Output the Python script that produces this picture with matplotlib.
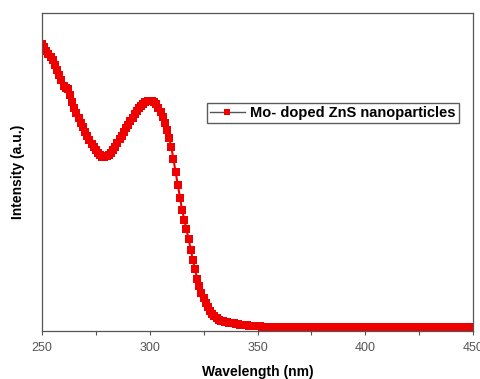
import matplotlib
matplotlib.use("Agg")
import matplotlib.pyplot as plt
from matplotlib.ticker import MultipleLocator

wavelength = list(range(250, 451))

intensity_250_340 = [
    0.903, 0.893, 0.882, 0.872, 0.862, 0.852, 0.837, 0.821, 0.805, 0.788,
    0.772, 0.765, 0.760, 0.741, 0.721, 0.701, 0.685, 0.670, 0.655, 0.640,
    0.626, 0.613, 0.601, 0.589, 0.578, 0.569, 0.560, 0.552, 0.548, 0.547,
    0.550, 0.555, 0.561, 0.569, 0.580, 0.591, 0.603, 0.614, 0.626, 0.637,
    0.648, 0.659, 0.670, 0.681, 0.691, 0.701, 0.709, 0.715, 0.720, 0.723,
    0.724, 0.723, 0.720, 0.713, 0.702, 0.688, 0.672, 0.654, 0.633, 0.607,
    0.578, 0.540, 0.500, 0.458, 0.418, 0.381, 0.350, 0.320, 0.290, 0.256,
    0.223, 0.194, 0.165, 0.140, 0.120, 0.103, 0.088, 0.074, 0.062, 0.053,
    0.046, 0.041, 0.036, 0.033, 0.031, 0.029, 0.027, 0.026, 0.025, 0.024,
    0.022,
]
intensity_341_360 = [
    0.021, 0.020, 0.019, 0.019, 0.018, 0.017, 0.017, 0.016, 0.016, 0.015,
    0.015, 0.014, 0.014, 0.014, 0.013, 0.013, 0.013, 0.013, 0.012, 0.012,
]
intensity_361_450 = [0.013] * 40 + [0.013] * 50
intensity = intensity_250_340 + intensity_341_360 + intensity_361_450

x_ticks = [250, 300, 350, 400, 450]
series_label = "Mo- doped ZnS nanoparticles"

plt.rcParams['font.family'] = ['Liberation Sans', 'DejaVu Sans']

fig = plt.figure(figsize=(4.81, 3.79), dpi=100)
ax = fig.add_axes([0.0873, 0.1266, 0.8961, 0.8391])

ax.plot(wavelength, intensity, color='#ee0000', linewidth=1.5,
        marker='s', markersize=6.0, markeredgewidth=0,
        markerfacecolor='#ee0000', label=series_label)

ax.set_xlim(250, 450)
ax.set_ylim(0, 1.0)
ax.set_xticks(x_ticks)
ax.xaxis.set_minor_locator(MultipleLocator(25))
ax.tick_params(axis='x', which='both', direction='out', length=3, width=0.8,
               colors='#555555', labelsize=9, labelcolor='#555555', pad=5)
ax.set_yticks([])
for s in ax.spines.values():
    s.set_color('#555555')
    s.set_linewidth(0.9)

ax.set_xlabel("Wavelength (nm)", fontsize=10, fontweight='bold', labelpad=8)
ax.set_ylabel("Intensity (a.u.)", fontsize=10, fontweight='bold', labelpad=12)

leg = ax.legend(loc='upper left', bbox_to_anchor=(0.383, 0.717),
                fontsize=10.5, frameon=True, fancybox=False,
                handlelength=2.4, handletextpad=0.35, borderpad=0.2,
                borderaxespad=0)
leg.get_frame().set_edgecolor('#333333')
leg.get_frame().set_linewidth(1.0)
for t in leg.get_texts():
    t.set_fontweight('bold')
for h in leg.legend_handles:
    h.set_color('#555555')
    h.set_linewidth(1.0)
    h.set_markerfacecolor('#ee0000')
    h.set_markersize(5)

fig.savefig("out.png", dpi=100)
